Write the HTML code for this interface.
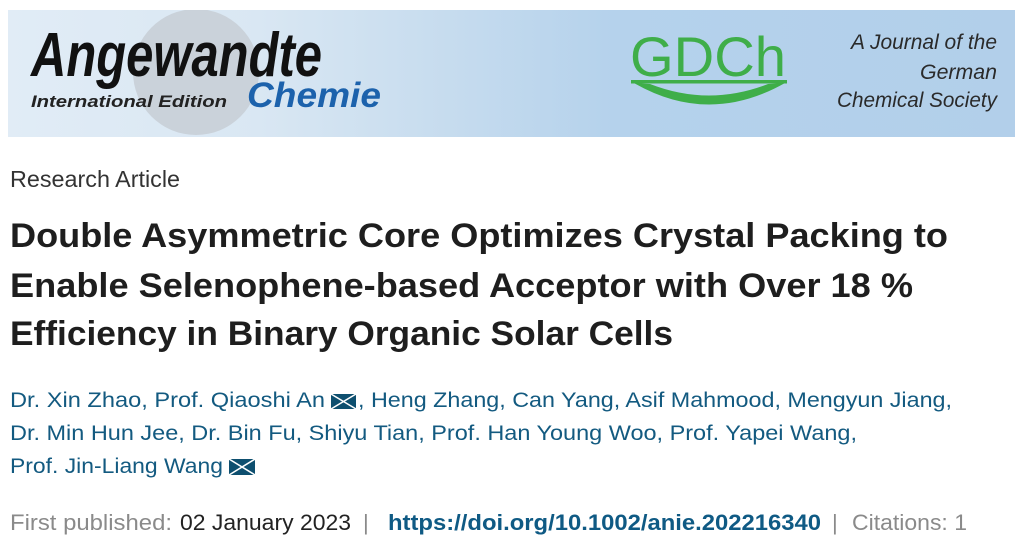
<!DOCTYPE html>
<html>
<head>
<meta charset="utf-8">
<style>
  html, body { margin:0; padding:0; background:#ffffff; }
  body { width:1027px; height:557px; overflow:hidden; }
  svg { display:block; }
  .sans { font-family:"Liberation Sans", "DejaVu Sans", sans-serif; }
</style>
</head>
<body>
<svg width="1027" height="557" viewBox="0 0 1027 557" xmlns="http://www.w3.org/2000/svg" class="sans">
  <defs>
    <linearGradient id="bg" x1="0" y1="0" x2="1" y2="0">
      <stop offset="0" stop-color="#e1ecf6"/>
      <stop offset="0.25" stop-color="#d9e7f3"/>
      <stop offset="0.45" stop-color="#c5dbee"/>
      <stop offset="0.6" stop-color="#b5d2ec"/>
      <stop offset="1" stop-color="#b2cfea"/>
    </linearGradient>
    <clipPath id="bannerClip">
      <rect x="8" y="10" width="1007" height="127"/>
    </clipPath>
  </defs>

  <!-- Banner -->
  <rect x="8" y="10" width="1007" height="127" fill="url(#bg)"/>
  <g clip-path="url(#bannerClip)">
    <circle cx="196" cy="72" r="63" fill="#cad2da"/>
  </g>

  <text x="31" y="76" font-size="62" font-weight="bold" font-style="italic" fill="#111" textLength="291" lengthAdjust="spacingAndGlyphs">Angewandte</text>
  <text x="31" y="107" font-size="17" font-weight="bold" font-style="italic" fill="#222" textLength="196" lengthAdjust="spacingAndGlyphs">International Edition</text>
  <text x="247" y="107" font-size="35" font-weight="bold" font-style="italic" fill="#1c62ac" textLength="134" lengthAdjust="spacingAndGlyphs">Chemie</text>

  <!-- GDCh logo -->
  <text x="630" y="76" font-size="56" fill="#3fae49" textLength="156" lengthAdjust="spacingAndGlyphs">GDCh</text>
  <rect x="631" y="80" width="156" height="3.5" fill="#3fae49"/>
  <path d="M 634 83 Q 709 126 785 83 L 768 84 Q 709 107 650 84 Z" fill="#3fae49"/>

  <text x="997" y="49" font-size="21" font-style="italic" fill="#2a2a2a" text-anchor="end" textLength="146" lengthAdjust="spacingAndGlyphs">A Journal of the</text>
  <text x="997" y="79" font-size="21" font-style="italic" fill="#2a2a2a" text-anchor="end" textLength="77" lengthAdjust="spacingAndGlyphs">German</text>
  <text x="997" y="107" font-size="21" font-style="italic" fill="#2a2a2a" text-anchor="end" textLength="160" lengthAdjust="spacingAndGlyphs">Chemical Society</text>

  <!-- Research Article -->
  <text x="10" y="187" font-size="23" fill="#333" textLength="170" lengthAdjust="spacingAndGlyphs">Research Article</text>

  <!-- Title -->
  <text x="10" y="247" font-size="34" font-weight="bold" fill="#1e1e1e" textLength="938" lengthAdjust="spacingAndGlyphs">Double Asymmetric Core Optimizes Crystal Packing to</text>
  <text x="10" y="297" font-size="34" font-weight="bold" fill="#1e1e1e" textLength="903" lengthAdjust="spacingAndGlyphs">Enable Selenophene-based Acceptor with Over 18 %</text>
  <text x="10" y="345" font-size="34" font-weight="bold" fill="#1e1e1e" textLength="663" lengthAdjust="spacingAndGlyphs">Efficiency in Binary Organic Solar Cells</text>

  <!-- Authors -->
  <text x="10" y="407" font-size="21" fill="#135a80" textLength="315" lengthAdjust="spacingAndGlyphs">Dr. Xin Zhao, Prof. Qiaoshi An</text>
  <g>
    <rect x="331" y="394" width="25" height="15" fill="#0e4f6f"/>
    <path d="M331 394 L356 409 M356 394 L331 409" stroke="#ffffff" stroke-width="1.6"/>
  </g>
  <text x="358" y="407" font-size="21" fill="#135a80" textLength="594" lengthAdjust="spacingAndGlyphs">, Heng Zhang, Can Yang, Asif Mahmood, Mengyun Jiang,</text>
  <text x="10" y="440" font-size="21" fill="#135a80" textLength="847" lengthAdjust="spacingAndGlyphs">Dr. Min Hun Jee, Dr. Bin Fu, Shiyu Tian, Prof. Han Young Woo, Prof. Yapei Wang,</text>
  <text x="10" y="473" font-size="21" fill="#135a80" textLength="213" lengthAdjust="spacingAndGlyphs">Prof. Jin-Liang Wang</text>
  <g>
    <rect x="229" y="459" width="26" height="16" fill="#0e4f6f"/>
    <path d="M229 459 L255 475 M255 459 L229 475" stroke="#ffffff" stroke-width="1.6"/>
  </g>

  <!-- Publication line -->
  <text x="10" y="530" font-size="22" fill="#8a8a8a" textLength="162" lengthAdjust="spacingAndGlyphs">First published:</text>
  <text x="180" y="530" font-size="22" fill="#222" textLength="171" lengthAdjust="spacingAndGlyphs">02 January 2023</text>
  <text x="363" y="530" font-size="22" fill="#8a8a8a">|</text>
  <text x="388" y="530" font-size="22" font-weight="bold" fill="#0f5a84" textLength="433" lengthAdjust="spacingAndGlyphs">https://doi.org/10.1002/anie.202216340</text>
  <text x="832" y="530" font-size="22" fill="#8a8a8a">|</text>
  <text x="852" y="530" font-size="22" fill="#8a8a8a" textLength="115" lengthAdjust="spacingAndGlyphs">Citations: 1</text>
</svg>
</body>
</html>
